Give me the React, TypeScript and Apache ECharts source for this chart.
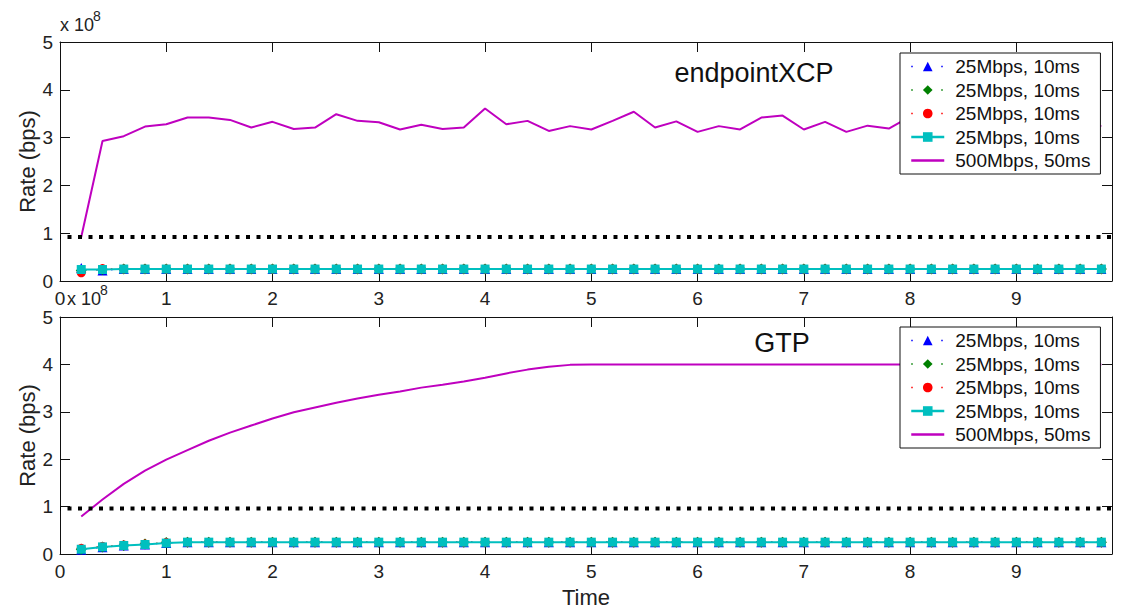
import React, { useEffect, useRef } from "react";
import * as echarts from "echarts";

// Rates are expressed in units of 1e8 bps (the axis multiplier is drawn separately).
const FONT = '"Liberation Sans", Arial, Helvetica, sans-serif';

const timeMax = 9.9;
const times = [
  0.2, 0.4, 0.6, 0.8, 1.0, 1.2, 1.4, 1.6, 1.8, 2.0,
  2.2, 2.4, 2.6, 2.8, 3.0, 3.2, 3.4, 3.6, 3.8, 4.0,
  4.2, 4.4, 4.6, 4.8, 5.0, 5.2, 5.4, 5.6, 5.8, 6.0,
  6.2, 6.4, 6.6, 6.8, 7.0, 7.2, 7.4, 7.6, 7.8, 8.0,
  8.2, 8.4, 8.6, 8.8, 9.0, 9.2, 9.4, 9.6, 9.8,
];

const flowLabels = ["25Mbps, 10ms", "25Mbps, 10ms", "25Mbps, 10ms", "25Mbps, 10ms", "500Mbps, 50ms"];
const xTickLabels = ["0", "1", "2", "3", "4", "5", "6", "7", "8", "9"];
const yTickLabels = ["0", "1", "2", "3", "4", "5"];

// endpointXCP panel
const xcpThreshold = 0.92;
const xcpFlowA = [
  0.27, 0.22, 0.25, 0.25, 0.25, 0.25, 0.25, 0.25, 0.25, 0.25,
  0.25, 0.25, 0.25, 0.25, 0.25, 0.25, 0.25, 0.25, 0.25, 0.25,
  0.25, 0.25, 0.25, 0.25, 0.25, 0.25, 0.25, 0.25, 0.25, 0.25,
  0.25, 0.25, 0.25, 0.25, 0.25, 0.25, 0.25, 0.25, 0.25, 0.25,
  0.25, 0.25, 0.25, 0.25, 0.25, 0.25, 0.25, 0.25, 0.25,
];
const xcpFlowB = [
  0.22, 0.24, 0.25, 0.25, 0.25, 0.25, 0.25, 0.25, 0.25, 0.25,
  0.25, 0.25, 0.25, 0.25, 0.25, 0.25, 0.25, 0.25, 0.25, 0.25,
  0.25, 0.25, 0.25, 0.25, 0.25, 0.25, 0.25, 0.25, 0.25, 0.25,
  0.25, 0.25, 0.25, 0.25, 0.25, 0.25, 0.25, 0.25, 0.25, 0.25,
  0.25, 0.25, 0.25, 0.25, 0.25, 0.25, 0.25, 0.25, 0.25,
];
const xcpFlowC = [
  0.17, 0.26, 0.25, 0.25, 0.25, 0.25, 0.25, 0.25, 0.25, 0.25,
  0.25, 0.25, 0.25, 0.25, 0.25, 0.25, 0.25, 0.25, 0.25, 0.25,
  0.25, 0.25, 0.25, 0.25, 0.25, 0.25, 0.25, 0.25, 0.25, 0.25,
  0.25, 0.25, 0.25, 0.25, 0.25, 0.25, 0.25, 0.25, 0.25, 0.25,
  0.25, 0.25, 0.25, 0.25, 0.25, 0.25, 0.25, 0.25, 0.25,
];
const xcpFlowD = [
  0.24, 0.24, 0.25, 0.25, 0.25, 0.25, 0.25, 0.25, 0.25, 0.25,
  0.25, 0.25, 0.25, 0.25, 0.25, 0.25, 0.25, 0.25, 0.25, 0.25,
  0.25, 0.25, 0.25, 0.25, 0.25, 0.25, 0.25, 0.25, 0.25, 0.25,
  0.25, 0.25, 0.25, 0.25, 0.25, 0.25, 0.25, 0.25, 0.25, 0.25,
  0.25, 0.25, 0.25, 0.25, 0.25, 0.25, 0.25, 0.25, 0.25,
];
const xcpLongFlow = [
  0.92, 2.93, 3.03, 3.23, 3.28, 3.42, 3.42, 3.37, 3.21, 3.33,
  3.18, 3.21, 3.49, 3.35, 3.32, 3.17, 3.27, 3.18, 3.21, 3.61,
  3.28, 3.35, 3.14, 3.24, 3.17, 3.35, 3.54, 3.21, 3.34, 3.12,
  3.24, 3.17, 3.42, 3.46, 3.17, 3.33, 3.12, 3.25, 3.19, 3.44,
  3.30, 3.22, 3.36, 3.18, 3.29, 3.40, 3.21, 3.31, 3.24,
];

// GTP panel
const gtpThreshold = 0.96;
const gtpFlowA = [
  0.09, 0.14, 0.18, 0.20, 0.23, 0.25, 0.25, 0.25, 0.25, 0.25,
  0.25, 0.25, 0.25, 0.25, 0.25, 0.25, 0.25, 0.25, 0.25, 0.25,
  0.25, 0.25, 0.25, 0.25, 0.25, 0.25, 0.25, 0.25, 0.25, 0.25,
  0.25, 0.25, 0.25, 0.25, 0.25, 0.25, 0.25, 0.25, 0.25, 0.25,
  0.25, 0.25, 0.25, 0.25, 0.25, 0.25, 0.25, 0.25, 0.25,
];
const gtpFlowB = [
  0.10, 0.15, 0.18, 0.21, 0.24, 0.25, 0.25, 0.25, 0.25, 0.25,
  0.25, 0.25, 0.25, 0.25, 0.25, 0.25, 0.25, 0.25, 0.25, 0.25,
  0.25, 0.25, 0.25, 0.25, 0.25, 0.25, 0.25, 0.25, 0.25, 0.25,
  0.25, 0.25, 0.25, 0.25, 0.25, 0.25, 0.25, 0.25, 0.25, 0.25,
  0.25, 0.25, 0.25, 0.25, 0.25, 0.25, 0.25, 0.25, 0.25,
];
const gtpFlowC = [
  0.12, 0.16, 0.19, 0.21, 0.24, 0.25, 0.25, 0.25, 0.25, 0.25,
  0.25, 0.25, 0.25, 0.25, 0.25, 0.25, 0.25, 0.25, 0.25, 0.25,
  0.25, 0.25, 0.25, 0.25, 0.25, 0.25, 0.25, 0.25, 0.25, 0.25,
  0.25, 0.25, 0.25, 0.25, 0.25, 0.25, 0.25, 0.25, 0.25, 0.25,
  0.25, 0.25, 0.25, 0.25, 0.25, 0.25, 0.25, 0.25, 0.25,
];
const gtpFlowD = [
  0.10, 0.15, 0.18, 0.20, 0.23, 0.25, 0.25, 0.25, 0.25, 0.25,
  0.25, 0.25, 0.25, 0.25, 0.25, 0.25, 0.25, 0.25, 0.25, 0.25,
  0.25, 0.25, 0.25, 0.25, 0.25, 0.25, 0.25, 0.25, 0.25, 0.25,
  0.25, 0.25, 0.25, 0.25, 0.25, 0.25, 0.25, 0.25, 0.25, 0.25,
  0.25, 0.25, 0.25, 0.25, 0.25, 0.25, 0.25, 0.25, 0.25,
];
const gtpLongFlow = [
  0.79, 1.15, 1.48, 1.76, 1.99, 2.19, 2.39, 2.56, 2.71, 2.86,
  2.99, 3.09, 3.19, 3.28, 3.36, 3.43, 3.51, 3.57, 3.64, 3.72,
  3.81, 3.89, 3.95, 3.99, 4.00, 4.00, 4.00, 4.00, 4.00, 4.00,
  4.00, 4.00, 4.00, 4.00, 4.00, 4.00, 4.00, 4.00, 4.00, 4.00,
  4.00, 4.00, 4.00, 4.00, 4.00, 4.00, 4.00, 4.00, 4.00,
];

const flowStyles = [
  { color: "#0000ff", symbol: "triangle", symbolSize: 10, width: 1, type: [1.5, 13.5], legendWidth: 1.5 },
  { color: "#008000", symbol: "diamond", symbolSize: 11, width: 1, type: [1.5, 13.5], legendWidth: 1.5 },
  { color: "#ff0000", symbol: "circle", symbolSize: 9, width: 1, type: [1.5, 13.5], legendWidth: 1.5 },
  { color: "#00bfbf", symbol: "rect", symbolSize: 9, width: 2, type: "solid", legendWidth: 2.5 },
  { color: "#bf00bf", symbol: "none", symbolSize: 0, width: 2, type: "solid", legendWidth: 2.5 },
];

const panels = [
  { key: "xcp", title: "endpointXCP", flows: [xcpFlowA, xcpFlowB, xcpFlowC, xcpFlowD, xcpLongFlow], threshold: xcpThreshold },
  { key: "gtp", title: "GTP", flows: [gtpFlowA, gtpFlowB, gtpFlowC, gtpFlowD, gtpLongFlow], threshold: gtpThreshold },
];

const grids = [
  { left: 60, top: 42, width: 1052, height: 239 },
  { left: 60, top: 317, width: 1052, height: 237 },
];

const AXIS_COLOR = "#111";
const TEXT_COLOR = "#222";

function xAxis(gridIndex: number, position: "top" | "bottom", withLabels: boolean, name?: string) {
  return {
    type: "value",
    gridIndex,
    position,
    min: 0,
    max: timeMax,
    interval: 1,
    name: name ?? "",
    nameLocation: "middle",
    nameGap: 32,
    nameMoveOverlap: false,
    nameTextStyle: { fontSize: 22, color: TEXT_COLOR, fontFamily: FONT },
    axisLine: { show: true, onZero: false, lineStyle: { color: AXIS_COLOR, width: 1 } },
    axisTick: { show: true, inside: true, length: 10, lineStyle: { color: AXIS_COLOR, width: 1 } },
    axisLabel: {
      show: withLabels,
      margin: 8,
      fontSize: 19,
      color: TEXT_COLOR,
      fontFamily: FONT,
      showMaxLabel: false,
      formatter: (v: number) => (Number.isInteger(v) ? xTickLabels[v] ?? "" : ""),
    },
    splitLine: { show: false },
  };
}

function yAxis(gridIndex: number, position: "left" | "right", withLabels: boolean) {
  return {
    type: "value",
    gridIndex,
    position,
    min: 0,
    max: 5,
    interval: 1,
    name: withLabels ? "Rate (bps)" : "",
    nameLocation: "middle",
    nameGap: 22,
    nameMoveOverlap: false,
    nameTextStyle: { fontSize: 22, color: TEXT_COLOR, fontFamily: FONT },
    axisLine: { show: true, onZero: false, lineStyle: { color: AXIS_COLOR, width: 1 } },
    axisTick: { show: true, inside: true, length: 10, lineStyle: { color: AXIS_COLOR, width: 1 } },
    axisLabel: {
      show: withLabels,
      margin: 7,
      fontSize: 19,
      color: TEXT_COLOR,
      fontFamily: FONT,
      formatter: (v: number) => yTickLabels[v] ?? "",
    },
    splitLine: { show: false },
  };
}

const seriesName = (panelKey: string, flow: number) => `${panelKey}-${flow}`;
const labelOf = (name: string) => flowLabels[Number(name.split("-")[1])] ?? name;

function buildOption() {
  const series: any[] = [];
  panels.forEach((panel, gi) => {
    panel.flows.forEach((values, f) => {
      const s = flowStyles[f];
      series.push({
        type: "line",
        name: seriesName(panel.key, f),
        xAxisIndex: gi * 2,
        yAxisIndex: gi * 2,
        data: times.map((t, i) => [t, values[i]]),
        symbol: s.symbol,
        symbolSize: s.symbolSize,
        showSymbol: s.symbol !== "none",
        itemStyle: { color: s.color },
        lineStyle: { color: s.color, width: s.width, type: s.type, cap: "butt" },
        emphasis: { disabled: true },
        silent: true,
        z: 2 + f,
      });
    });
    series.push({
      type: "line",
      name: `${panel.key}-threshold`,
      xAxisIndex: gi * 2,
      yAxisIndex: gi * 2,
      data: [
        [0, panel.threshold],
        [timeMax, panel.threshold],
      ],
      symbol: "none",
      lineStyle: { color: "#000", width: 4, type: [4, 6.5], dashOffset: 2.5, cap: "butt" },
      emphasis: { disabled: true },
      silent: true,
      z: 8,
    });
  });

  const legends = panels.map((panel, gi) => ({
    orient: "vertical",
    left: 900,
    top: gi === 0 ? 53 : 327,
    padding: [4, 10, 4, 10],
    itemGap: 4.5,
    itemWidth: 33,
    itemHeight: 12,
    backgroundColor: "#fff",
    borderColor: "#111",
    borderWidth: 1,
    selectedMode: false,
    data: flowStyles.map((s, f) => ({
      name: seriesName(panel.key, f),
      lineStyle: { width: s.legendWidth },
      // the long flow is drawn as a plain line, without a marker
      ...(s.symbol === "none" ? { itemStyle: { opacity: 0 } } : {}),
    })),
    formatter: labelOf,
    textStyle: { fontSize: 19, color: "#111", fontFamily: FONT, padding: [0, 0, 0, 6] },
    z: 20,
  }));

  const graphic = [
    { type: "text", style: { x: 60, y: 25, text: "x 10", font: `18px ${FONT}`, fill: TEXT_COLOR, textVerticalAlign: "middle" } },
    { type: "text", style: { x: 93, y: 16, text: "8", font: `14px ${FONT}`, fill: TEXT_COLOR, textVerticalAlign: "middle" } },
    { type: "text", style: { x: 67, y: 299, text: "x 10", font: `18px ${FONT}`, fill: TEXT_COLOR, textVerticalAlign: "middle" } },
    { type: "text", style: { x: 100, y: 290, text: "8", font: `14px ${FONT}`, fill: TEXT_COLOR, textVerticalAlign: "middle" } },
    { type: "text", z: 30, style: { x: 754, y: 73, text: panels[0].title, font: `27px ${FONT}`, fill: "#111", textAlign: "center", textVerticalAlign: "middle" } },
    { type: "text", z: 30, style: { x: 782, y: 343, text: panels[1].title, font: `27px ${FONT}`, fill: "#111", textAlign: "center", textVerticalAlign: "middle" } },
  ];

  return {
    animation: false,
    backgroundColor: "#fff",
    textStyle: { fontFamily: FONT },
    grid: grids,
    xAxis: [
      xAxis(0, "bottom", true),
      xAxis(0, "top", false),
      xAxis(1, "bottom", true, "Time"),
      xAxis(1, "top", false),
    ],
    yAxis: [yAxis(0, "left", true), yAxis(0, "right", false), yAxis(1, "left", true), yAxis(1, "right", false)],
    legend: legends,
    graphic,
    series,
  };
}

export default function App() {
  const ref = useRef<HTMLDivElement>(null);
  useEffect(() => {
    if (!ref.current) return;
    const chart = echarts.init(ref.current, undefined, { renderer: "svg" });
    chart.setOption(buildOption() as any);
    return () => chart.dispose();
  }, []);
  return (
    <div
      ref={ref}
      style={{ position: "absolute", left: 0, top: 0, width: 1122, height: 610, background: "#fff" }}
    />
  );
}
